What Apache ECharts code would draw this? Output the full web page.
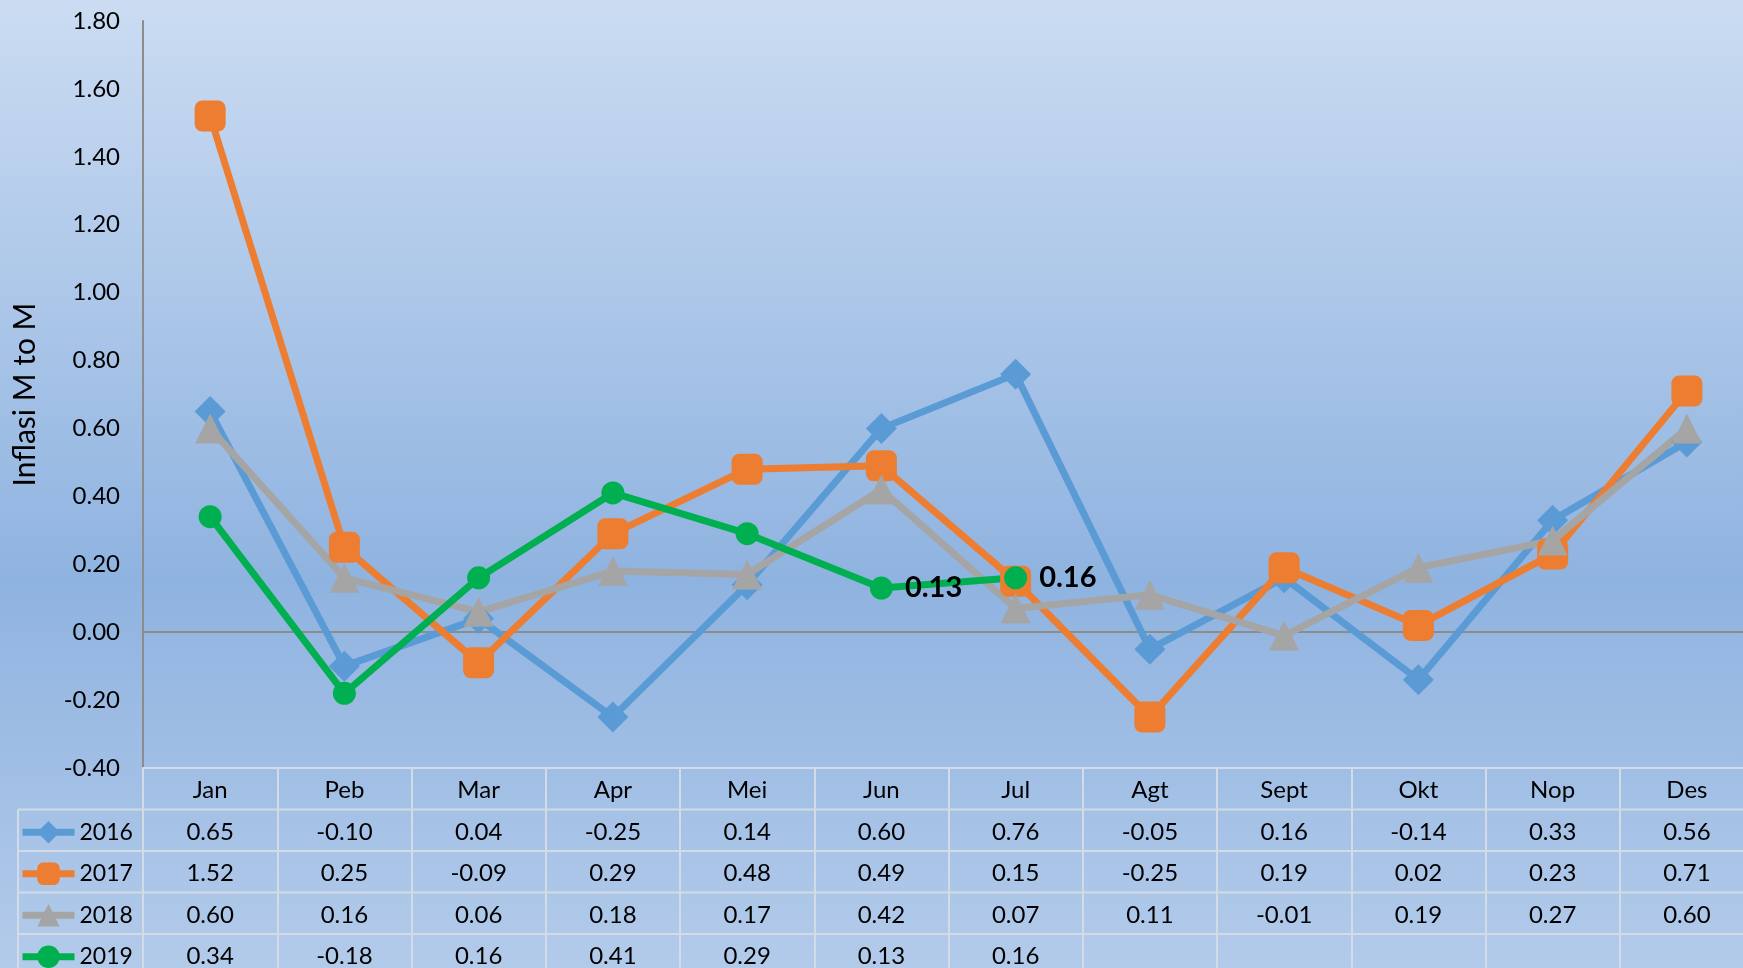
<!DOCTYPE html>
<html>
<head>
<meta charset="utf-8">
<script src="https://cdn.jsdelivr.net/npm/echarts@6/dist/echarts.min.js"></script>
<style>
  html, body { margin: 0; padding: 0; background: #b5cdea; overflow: hidden; }
  /* the original picture is clipped a few pixels past the last column */
  #chart { width: 1754px; height: 968px; }
</style>
</head>
<body>
<div id="chart"></div>
<script>
// bulan
const months = ['Jan', 'Peb', 'Mar', 'Apr', 'Mei', 'Jun', 'Jul', 'Agt', 'Sept', 'Okt', 'Nop', 'Des'];

// inflasi month to month per tahun
const y2016 = [0.65, -0.10, 0.04, -0.25, 0.14, 0.60, 0.76, -0.05, 0.16, -0.14, 0.33, 0.56];
const y2017 = [1.52, 0.25, -0.09, 0.29, 0.48, 0.49, 0.15, -0.25, 0.19, 0.02, 0.23, 0.71];
const y2018 = [0.60, 0.16, 0.06, 0.18, 0.17, 0.42, 0.07, 0.11, -0.01, 0.19, 0.27, 0.60];
const y2019 = [0.34, -0.18, 0.16, 0.41, 0.29, 0.13, 0.16, null, null, null, null, null];

// label angka hanya untuk 2 titik terakhir 2019
const labelled2019 = [5, 6];

const years = ['2016', '2017', '2018', '2019'];
const rows = [y2016, y2017, y2018, y2019];

const FONT = 'Lato, "Liberation Sans", sans-serif';
const tableLine = '#d3dbe7';
const ROW_H = 41.5;
const TABLE_TOP = 768;

const chart = echarts.init(document.getElementById('chart'));

const fmt = v => (v === null || v === undefined) ? '' : v.toFixed(2);

const series = [
  { name: '2016', data: y2016, color: '#5b9bd5', symbol: 'diamond', symbolSize: 31 },
  { name: '2017', data: y2017, color: '#ed7d31', symbol: 'roundRect', symbolSize: 31 },
  { name: '2018', data: y2018, color: '#a5a5a5', symbol: 'triangle', symbolSize: 30 },
  { name: '2019', data: y2019, color: '#00b050', symbol: 'circle', symbolSize: 23 },
].map(s => ({
  name: s.name,
  type: 'line',
  data: s.name === '2019'
    ? s.data.map((v, i) => ({
        value: v,
        label: { show: labelled2019.includes(i) }
      }))
    : s.data,
  symbol: s.symbol,
  symbolSize: s.symbolSize,
  showAllSymbol: true,
  connectNulls: false,
  lineStyle: { color: s.color, width: 7 },
  itemStyle: { color: s.color },
  label: {
    show: false,
    position: 'right',
    distance: 12,
    formatter: p => fmt(p.value),
    fontFamily: FONT,
    fontSize: 29,
    fontWeight: 'bold',
    color: '#000'
  },
  emphasis: { disabled: true },
  z: 3
}));

// satu legend per baris tabel
const legends = years.map((y, i) => ({
  orient: 'horizontal',
  left: 19,
  top: TABLE_TOP + ROW_H * (i + 1.5) - 12,
  padding: 0,
  itemWidth: 52,
  itemHeight: 28,
  selectedMode: false,
  data: [y],
  lineStyle: { width: 7 },
  textStyle: { fontFamily: FONT, fontSize: 23, color: '#000', lineHeight: 28 }
}));

// garis-garis tabel data
const hLines = [1, 2, 3, 4].map(k => ({
  type: 'line',
  shape: { x1: 18, y1: TABLE_TOP + ROW_H * k, x2: 1754, y2: TABLE_TOP + ROW_H * k },
  style: { stroke: tableLine, lineWidth: 2 },
  silent: true
}));

const option = {
  backgroundColor: new echarts.graphic.LinearGradient(0, 0, 0, 1, [
    { offset: 0, color: '#cbdcf2' },
    { offset: 0.6, color: '#8fb3e0' },
    { offset: 1, color: '#b3cbea' }
  ]),
  textStyle: { fontFamily: FONT },
  grid: { left: 143, right: 0, top: 21, bottom: 968 - TABLE_TOP, containLabel: false, outerBoundsMode: 'none' },
  legend: legends,
  xAxis: [
    {
      type: 'category',
      data: months,
      boundaryGap: true,
      axisLine: { onZero: true, lineStyle: { color: '#8c8c8c', width: 2 } },
      axisTick: { show: false },
      axisLabel: { show: false },
      splitLine: { show: false }
    },
    {
      type: 'category',
      data: months,
      position: 'bottom',
      boundaryGap: true,
      axisLine: { onZero: false, lineStyle: { color: tableLine, width: 2 } },
      axisTick: { show: true, length: 210, lineStyle: { color: tableLine, width: 2 } },
      axisLabel: {
        interval: 0,
        margin: 2,
        fontFamily: FONT,
        fontSize: 24,
        lineHeight: ROW_H,
        color: '#000',
        formatter: (m, i) => [m].concat(rows.map(r => fmt(r[i]) || ' ')).join('\n')
      }
    }
  ],
  yAxis: {
    type: 'value',
    min: -0.4,
    max: 1.8,
    interval: 0.2,
    name: 'Inflasi M to M',
    nameLocation: 'middle',
    nameGap: 103,
    nameTextStyle: { fontFamily: FONT, fontSize: 30, color: '#000' },
    axisLine: { show: true, lineStyle: { color: '#8c8c8c', width: 2 } },
    axisTick: { show: false },
    splitLine: { show: false },
    axisLabel: {
      margin: 23,
      fontFamily: FONT,
      fontSize: 24,
      color: '#000',
      formatter: v => v.toFixed(2)
    }
  },
  graphic: hLines.concat([
    {
      type: 'line',
      shape: { x1: 18, y1: TABLE_TOP + ROW_H, x2: 18, y2: 968 },
      style: { stroke: tableLine, lineWidth: 2 },
      silent: true
    }
  ]),
  series: series
};

chart.setOption(option);
</script>
</body>
</html>
